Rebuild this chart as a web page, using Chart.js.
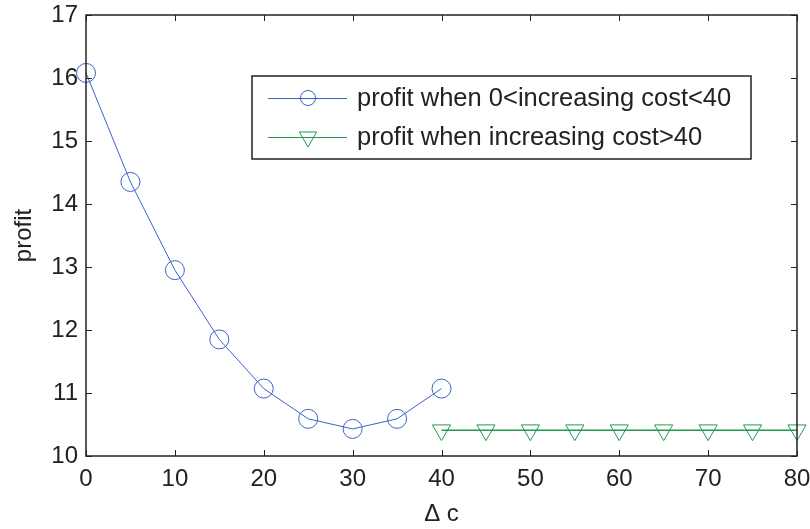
<!DOCTYPE html>
<html>
<head>
<meta charset="utf-8">
<script src="https://cdn.jsdelivr.net/npm/chart.js@4/dist/chart.umd.min.js"></script>
<style>
  html, body { margin: 0; padding: 0; background: #fff; }
  #wrap { width: 810px; height: 529px; }
</style>
</head>
<body>
<div id="wrap"><canvas id="profitChart" width="810" height="529"></canvas></div>
<script>
// values
const costLow = [0, 5, 10, 15, 20, 25, 30, 35, 40];
const profitLow = [16.08, 14.35, 12.95, 11.85, 11.07, 10.59, 10.43, 10.59, 11.07];
const costHigh = [40, 45, 50, 55, 60, 65, 70, 75, 80];
const profitHigh = [10.41, 10.41, 10.41, 10.41, 10.41, 10.41, 10.41, 10.41, 10.41];
const xTicks = [0, 10, 20, 30, 40, 50, 60, 70, 80];
const yTicks = [10, 11, 12, 13, 14, 15, 16, 17];
const seriesNames = ['profit when 0<increasing cost<40', 'profit when increasing cost>40'];

const BLUE = '#3a62c9';
const GREEN = '#229a4e';
const FONT = '"Liberation Sans", Arial, sans-serif';

function toPoints(xs, ys) {
    return xs.map((x, i) => ({ x: x, y: ys[i] }));
}

// MATLAB style box with inward ticks
const boxTicks = {
    id: 'boxTicks',
    afterDraw(chart) {
        const ctx = chart.ctx;
        const a = chart.chartArea;
        const xs = chart.scales.x;
        const ys = chart.scales.y;
        const len = 6;
        ctx.save();
        ctx.strokeStyle = '#222';
        ctx.lineWidth = 1;
        ctx.beginPath();
        xTicks.forEach(v => {
            const px = Math.round(xs.getPixelForValue(v)) + 0.5;
            ctx.moveTo(px, a.bottom); ctx.lineTo(px, a.bottom - len);
            ctx.moveTo(px, a.top); ctx.lineTo(px, a.top + len);
        });
        yTicks.forEach(v => {
            const py = Math.round(ys.getPixelForValue(v)) + 0.5;
            ctx.moveTo(a.left, py); ctx.lineTo(a.left + len, py);
            ctx.moveTo(a.right, py); ctx.lineTo(a.right - len, py);
        });
        ctx.stroke();
        ctx.lineWidth = 1.5;
        ctx.strokeRect(a.left, a.top, a.right - a.left, a.bottom - a.top);
        ctx.restore();
    }
};

// legend box drawn inside the plot
const innerLegend = {
    id: 'innerLegend',
    afterDraw(chart) {
        const ctx = chart.ctx;
        const box = { x: 252, y: 76, w: 499, h: 83 };
        ctx.save();
        ctx.fillStyle = '#fff';
        ctx.fillRect(box.x, box.y, box.w, box.h);
        ctx.strokeStyle = '#222';
        ctx.lineWidth = 1.5;
        ctx.strokeRect(box.x, box.y, box.w, box.h);
        const rows = [98, 137];
        chart.data.datasets.forEach((ds, i) => {
            const y = rows[i];
            ctx.strokeStyle = ds.borderColor;
            ctx.lineWidth = 1.2;
            ctx.beginPath();
            ctx.moveTo(268, y + 0.5);
            ctx.lineTo(347, y + 0.5);
            ctx.stroke();
            ctx.fillStyle = 'rgba(0,0,0,0)';
            ctx.lineWidth = 1;
            Chart.helpers.drawPoint(ctx, {
                pointStyle: ds.pointStyle,
                rotation: ds.pointRotation || 0,
                radius: i === 0 ? 7.5 : 10,
                borderWidth: 1
            }, 308, y);
            ctx.fillStyle = '#222';
            ctx.font = '25.5px ' + FONT;
            ctx.textBaseline = 'middle';
            ctx.textAlign = 'left';
            ctx.fillText(ds.label, 357, y + 1);
        });
        ctx.restore();
    }
};

const chart = new Chart(document.getElementById('profitChart'), {
    type: 'line',
    data: {
        datasets: [
            {
                label: seriesNames[0],
                data: toPoints(costLow, profitLow),
                borderColor: BLUE,
                backgroundColor: 'rgba(0,0,0,0)',
                borderWidth: 1,
                pointStyle: 'circle',
                pointRadius: 9.5,
                pointBorderWidth: 1,
                pointBackgroundColor: 'rgba(0,0,0,0)',
                pointBorderColor: BLUE,
                tension: 0,
                fill: false
            },
            {
                label: seriesNames[1],
                data: toPoints(costHigh, profitHigh),
                borderColor: GREEN,
                backgroundColor: 'rgba(0,0,0,0)',
                borderWidth: 1.5,
                pointStyle: 'triangle',
                pointRotation: 180,
                pointRadius: 10.5,
                pointBorderWidth: 1,
                pointBackgroundColor: 'rgba(0,0,0,0)',
                pointBorderColor: GREEN,
                tension: 0,
                fill: false
            }
        ]
    },
    options: {
        responsive: false,
        animation: false,
        clip: false,
        layout: { padding: { top: 15, right: 13, left: 0, bottom: 0 } },
        plugins: {
            legend: { display: false },
            tooltip: { enabled: false }
        },
        scales: {
            x: {
                type: 'linear',
                min: 0,
                max: 80,
                afterFit(scale) {
                    scale.height = 73;
                    scale.paddingLeft = 0;
                    scale.paddingRight = 0;
                },
                afterBuildTicks(scale) { scale.ticks = xTicks.map(v => ({ value: v })); },
                grid: { display: false, drawTicks: false },
                border: { display: false },
                ticks: {
                    color: '#222',
                    padding: 9,
                    font: { family: FONT, size: 24 }
                },
                title: {
                    display: true,
                    text: '\u0394 c',
                    color: '#222',
                    padding: { top: 1, bottom: 0 },
                    font: { family: FONT, size: 24 }
                }
            },
            y: {
                type: 'linear',
                min: 10,
                max: 17,
                afterFit(scale) {
                    scale.width = 86;
                    scale.paddingTop = 0;
                    scale.paddingBottom = 0;
                },
                afterBuildTicks(scale) { scale.ticks = yTicks.map(v => ({ value: v })); },
                grid: { display: false, drawTicks: false },
                border: { display: false },
                ticks: {
                    color: '#222',
                    padding: 8,
                    font: { family: FONT, size: 24 }
                },
                title: {
                    display: true,
                    text: 'profit',
                    color: '#222',
                    padding: { top: 10, bottom: 0 },
                    font: { family: FONT, size: 24 }
                }
            }
        }
    },
    plugins: [boxTicks, innerLegend]
});
</script>
</body>
</html>
